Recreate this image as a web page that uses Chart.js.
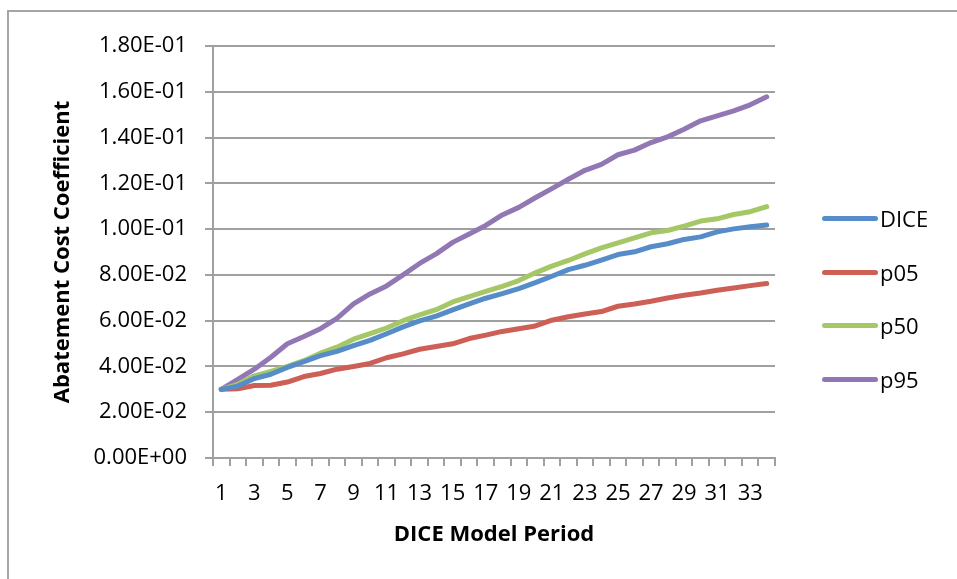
<!DOCTYPE html>
<html lang="en">
<head>
  <meta charset="UTF-8">
  <title>Abatement Cost Coefficient</title>
  <style>
    html, body { margin: 0; padding: 0; background: #fff; }
    #wrap { position: relative; width: 957px; height: 579px; overflow: hidden; }
    #frame { position: absolute; left: 7px; top: 10px; width: 1000px; height: 700px; border: 2px solid #a6a6a6; box-sizing: border-box; }
    canvas { position: absolute; left: 0; top: 0; }
    .leg { position: absolute; left: 822px; font-family: 'Open Sans', sans-serif; font-size: 22px; color: #000; }
    .leg span.line { position: absolute; left: 0; width: 56px; height: 5px; border-radius: 3px; }
    .leg span.txt { position: absolute; left: 58px; white-space: nowrap; }
  </style>
</head>
<body>
  <div id="wrap">
    <div id="frame"></div>
    <canvas id="chart" width="957" height="579"></canvas>
    <div id="legend"></div>
  </div>
  <script src="https://cdn.jsdelivr.net/npm/chart.js"></script>
  <script>
    // periodos do modelo
    const periods = ['1','2','3','4','5','6','7','8','9','10','11','12','13','14','15','16','17',
                     '18','19','20','21','22','23','24','25','26','27','28','29','30','31','32','33','34'];

    const dice = [0.0300, 0.0314, 0.0347, 0.0366, 0.0396, 0.0421, 0.0447, 0.0466, 0.0491, 0.0514,
                  0.0543, 0.0573, 0.0599, 0.0620, 0.0647, 0.0673, 0.0698, 0.0718, 0.0740, 0.0766,
                  0.0794, 0.0823, 0.0842, 0.0865, 0.0889, 0.0901, 0.0923, 0.0936, 0.0955, 0.0966,
                  0.0988, 0.1001, 0.1010, 0.1018];
    const p05 = [0.0300, 0.0302, 0.0317, 0.0318, 0.0332, 0.0356, 0.0369, 0.0388, 0.0400, 0.0413,
                 0.0438, 0.0455, 0.0475, 0.0487, 0.0499, 0.0522, 0.0537, 0.0553, 0.0565, 0.0577,
                 0.0602, 0.0617, 0.0629, 0.0640, 0.0663, 0.0673, 0.0685, 0.0699, 0.0711, 0.0721,
                 0.0733, 0.0743, 0.0753, 0.0762];
    const p50 = [0.0300, 0.0322, 0.0359, 0.0378, 0.0400, 0.0425, 0.0458, 0.0484, 0.0519, 0.0543,
                 0.0568, 0.0600, 0.0625, 0.0648, 0.0682, 0.0705, 0.0728, 0.0750, 0.0775, 0.0809,
                 0.0838, 0.0863, 0.0892, 0.0918, 0.0940, 0.0962, 0.0984, 0.0994, 0.1013, 0.1035,
                 0.1045, 0.1064, 0.1076, 0.1098];
    const p95 = [0.0300, 0.0344, 0.0388, 0.0440, 0.0499, 0.0531, 0.0565, 0.0610, 0.0673, 0.0717,
                 0.0752, 0.0800, 0.0850, 0.0892, 0.0942, 0.0979, 0.1016, 0.1062, 0.1095, 0.1137,
                 0.1177, 0.1218, 0.1257, 0.1283, 0.1325, 0.1345, 0.1378, 0.1403, 0.1436, 0.1473,
                 0.1495, 0.1517, 0.1543, 0.1578];

    const seriesNames = ['DICE', 'p05', 'p50', 'p95'];
    const seriesColors = ['#568dc9', '#cd5f56', '#a5c765', '#9178b4'];
    const seriesData = [dice, p05, p50, p95];

    const yMin = 0, yMax = 0.18, yStep = 0.02;

    // formato tipo Excel: 1.80E-01
    function sci(v) {
      if (Math.abs(v) < 1e-12) return '0.00E+00';
      const parts = v.toExponential(2).toUpperCase().split('E');
      const e = parseInt(parts[1], 10);
      const sign = e < 0 ? '-' : '+';
      return parts[0] + 'E' + sign + String(Math.abs(e)).padStart(2, '0');
    }

    const gridColor = '#a0a0a0';
    const font = { family: "'Open Sans', sans-serif", size: 22 };
    const boldFont = { family: "'Open Sans', sans-serif", size: 22, weight: 'bold' };

    new Chart(document.getElementById('chart'), {
      type: 'line',
      data: {
        labels: periods,
        datasets: seriesNames.map((n, i) => ({
          label: n,
          data: seriesData[i],
          borderColor: seriesColors[i],
          backgroundColor: seriesColors[i],
          borderWidth: 5,
          pointRadius: 0,
          tension: 0,
          borderCapStyle: 'round',
          borderJoinStyle: 'round',
          fill: false
        }))
      },
      options: {
        responsive: false,
        animation: false,
        layout: { padding: { left: 0, top: 46, right: 182, bottom: 0 } },
        plugins: { legend: { display: false }, tooltip: { enabled: false } },
        scales: {
          x: {
            offset: true,
            grid: { offset: true, drawOnChartArea: false, drawTicks: true, tickLength: 8, color: gridColor, lineWidth: 2 },
            border: { display: true, color: gridColor, width: 2 },
            ticks: {
              autoSkip: false, maxRotation: 0, padding: 15, color: '#000', font: font,
              callback: function (val, idx) { return idx % 2 === 0 ? this.getLabelForValue(val) : ''; }
            },
            title: { display: true, text: 'DICE Model Period', color: '#000', font: boldFont, padding: { top: 4, bottom: 31 } },
            afterFit: s => { s.height = 121; }
          },
          y: {
            min: yMin, max: yMax,
            grid: { color: gridColor, lineWidth: 2, tickLength: 8 },
            border: { display: true, color: gridColor, width: 2 },
            ticks: { stepSize: yStep, padding: 18, color: '#000', font: font, callback: v => sci(v) },
            title: { display: true, text: 'Abatement Cost Coefficient', color: '#000', font: boldFont, padding: { top: 50, bottom: 0 } },
            afterFit: s => { s.width = 213; }
          }
        }
      }
    });

    // legenda em HTML
    const legendY = [218, 272, 325, 379];
    const leg = document.getElementById('legend');
    seriesNames.forEach((n, i) => {
      const d = document.createElement('div');
      d.className = 'leg';
      d.style.top = legendY[i] + 'px';
      d.innerHTML = '<span class="line" style="top:-2.5px;background:' + seriesColors[i] + '"></span>' +
                    '<span class="txt" style="top:-15px">' + n + '</span>';
      leg.appendChild(d);
    });
  </script>
</body>
</html>
